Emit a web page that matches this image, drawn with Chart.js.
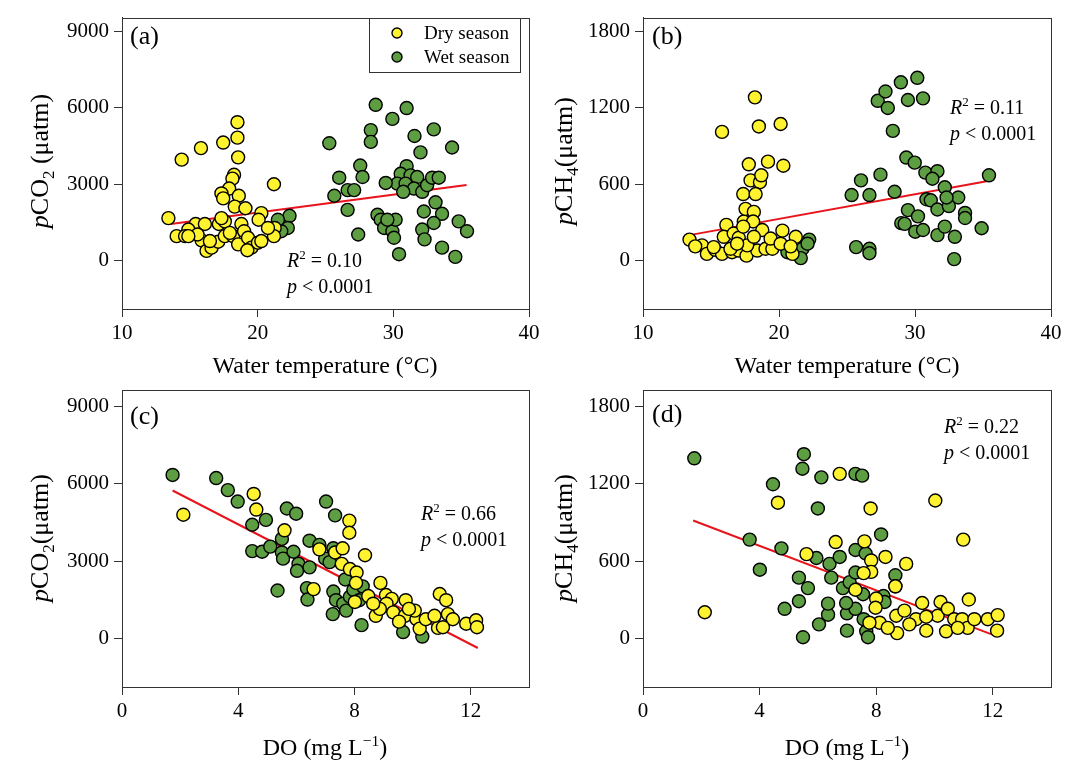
<!DOCTYPE html>
<html>
<head>
<meta charset="utf-8">
<script src="https://cdn.jsdelivr.net/npm/chart.js@4.4.0/dist/chart.umd.min.js"></script>
<style>
  html, body { margin: 0; padding: 0; background: #fff; }
  #wrap { position: relative; width: 1077px; height: 763px; }
  #wrap canvas { position: absolute; left: 0; top: 0; }
</style>
</head>
<body>
<div id="wrap">
  <canvas id="pa" width="1077" height="763"></canvas>
  <canvas id="pb" width="1077" height="763"></canvas>
  <canvas id="pc" width="1077" height="763"></canvas>
  <canvas id="pd" width="1077" height="763"></canvas>
</div>
<script>
// ---- data ----
const tempTicks = [10, 20, 30, 40];
const doTicks = [0, 4, 8, 12];
const co2Ticks = [0, 3000, 6000, 9000];
const ch4Ticks = [0, 600, 1200, 1800];

// (a) pCO2 vs water temperature
const aDryT = [13.42,14.40,15.82,17.46,18.51,18.51,18.56,18.26,18.14,17.90,17.33,17.46,18.61,18.31,19.10,21.20,20.27,20.07,21.25,21.20,15.43,16.11,14.89,14.03,14.65,15.87,16.23,16.60,17.09,17.14,17.58,17.58,18.19,18.56,18.80,19.00,19.29,19.54,20.02,19.24,20.27,20.76,15.57,17.33,17.95,16.48,14.89];
const aDryCO2 = [1673,3964,4414,4633,5431,4826,4054,3372,3218,2831,2638,2445,2548,2124,2059,2999,1866,1609,1287,965,1441,1441,1223,965,965,798,386,515,746,1441,1544,965,965,644,1441,1158,901,515,708,412,772,1287,1030,1673,1094,772,965];
const aWetT = [22.35,22.22,21.74,21.49,25.28,26.01,25.65,26.63,27.11,27.56,27.73,26.63,27.41,28.34,28.34,28.70,29.93,30.98,31.56,32.98,34.33,32.00,30.98,30.54,31.27,31.76,30.29,29.44,30.90,31.52,32.13,32.49,32.86,33.35,30.73,33.11,33.59,32.25,32.98,34.82,35.43,32.13,32.30,33.59,34.57,30.42,28.83,29.07,29.32,29.93,30.05,30.17,29.56];
const aWetCO2 = [1763,1287,1158,1609,4607,3256,2548,2767,2767,3732,3282,1995,1030,5122,4659,6113,5560,5985,4891,5148,4440,4247,3707,3411,3346,3282,3024,3050,3024,2831,2703,2960,3256,3256,2703,2291,1840,1931,1480,1544,1158,1223,837,515,154,257,1802,1609,1287,1158,901,1609,1609];
const aFitT = [13.6, 35.4];
const aFitCO2 = [1440, 2970];

// (b) pCH4 vs water temperature
const bDryT = [13.42,14.34,14.70,15.32,15.81,15.81,16.13,15.94,16.67,16.55,17.04,17.04,17.61,17.41,17.54,17.37,17.91,18.60,18.70,17.78,18.23,18.52,19.19,20.12,20.32,18.15,18.28,18.10,18.77,18.40,19.01,19.51,19.38,20.25,20.12,21.23,20.99,20.86,17.66,16.43,15.20,13.84,17.37,18.15,16.92];
const bDryCH4 = [166,121,54,86,54,1010,281,188,214,67,80,180,40,308,407,523,630,616,670,756,1281,1053,777,1072,745,383,523,308,241,80,94,94,174,236,134,188,54,113,121,94,107,113,268,188,134];
const bWetT = [22.22,21.72,21.60,22.10,20.62,25.67,26.65,26.65,25.34,26.03,26.65,27.46,28.50,27.26,27.83,28.00,28.96,29.48,30.17,30.59,28.37,29.36,29.98,30.76,31.65,31.28,32.19,33.18,30.84,31.16,31.65,32.49,32.32,29.48,30.22,28.99,29.24,30.02,30.59,31.65,32.19,32.93,33.68,33.68,34.90,35.44,32.88];
const bWetCH4 = [166,94,21,134,67,107,94,59,515,630,515,675,541,1254,1327,1198,1399,1260,1434,1273,1018,809,769,691,702,643,576,496,482,474,402,429,496,397,348,295,289,228,241,201,268,188,375,335,255,670,13];
const bFitT = [13.42, 35.27];
const bFitCH4 = [201, 624];

// (c) pCO2 vs DO
const cDryDO = [2.11,4.53,4.62,5.59,6.59,6.79,7.33,7.59,7.82,7.82,8.36,7.56,7.84,8.07,8.05,8.47,8.01,8.89,9.08,9.28,9.76,9.10,8.73,9.33,9.73,10.13,9.53,10.07,10.24,10.45,10.87,10.93,11.15,11.21,11.38,11.04,11.84,12.18,12.21,10.75,9.87,8.87,8.64];
const cDryCO2 = [4802,5609,5003,4196,1910,3457,3336,3497,4573,4102,3228,2892,2690,2556,2152,1641,1412,2152,1681,1533,1480,1345,874,1009,874,740,646,1076,377,740,404,1722,1480,941,740,430,565,700,430,874,1143,1143,1345];
const cWetDO = [1.74,3.24,3.64,3.98,4.48,4.95,5.67,5.99,4.48,4.82,5.10,5.50,5.50,5.54,5.90,6.07,6.02,6.45,6.45,5.35,6.36,6.38,7.02,7.33,6.79,6.99,7.14,7.27,7.27,7.36,7.25,7.61,7.71,7.84,7.96,8.28,7.68,8.24,9.67,10.33,8.16];
const cWetCO2 = [6348,6227,5757,5313,4412,4600,5044,4842,3389,3363,3564,3860,3336,3094,3363,2892,2623,2757,3793,1856,1950,1506,5313,4775,3632,3094,2959,3497,1816,1480,941,1345,1076,1614,1883,2018,2287,511,242,67,1480];
const cFitDO = [1.74, 12.24];
const cFitCO2 = [5743, -377];

// (d) pCH4 vs DO
const dDryDO = [2.12,4.63,5.61,6.61,6.75,7.60,7.81,7.83,7.83,7.57,8.32,9.03,8.66,7.29,8.00,7.98,8.12,7.77,8.69,8.72,8.97,9.37,9.58,9.72,10.03,10.21,10.11,10.40,10.46,10.68,10.95,10.99,11.18,11.14,11.37,11.83,12.17,12.15,8.40,9.14,9.72,10.80];
const dDryCH4 = [202,1054,654,748,1278,753,1009,605,516,506,632,578,404,377,309,237,121,121,175,40,215,148,274,59,1071,282,175,54,229,148,148,767,301,81,148,148,180,59,81,108,167,81];
const dWetDO = [1.76,3.66,4.01,4.46,4.75,4.86,5.35,5.35,5.52,5.47,5.49,5.66,5.95,6.00,6.12,6.04,6.35,6.35,6.40,6.46,6.75,6.86,7.00,7.00,7.09,7.29,7.52,7.29,7.29,7.29,7.64,7.55,7.57,7.66,7.72,8.17,8.25,8.29,8.66,8.66,6.97];
const dWetCH4 = [1399,767,533,1197,699,229,471,288,1431,1318,8,390,624,1009,1251,108,183,269,578,471,632,390,194,59,436,1278,1264,686,511,229,659,342,148,54,8,807,328,282,490,404,274];
const dFitDO = [1.72, 11.94];
const dFitCH4 = [915, 32];

// ---- styling ----
const SERIF = "'Liberation Serif', 'Times New Roman', serif";
const YELLOW = '#FFF22E';
const GREEN = '#5E9E42';
const RED = '#E8141B';
const AXIS = '#333';

const pairs = (xs, ys) => xs.map((x, i) => ({ x: x, y: ys[i] }));

// draw text made of pieces: [text, style] with style '', 'i', 'sub', 'sup'
function richWidth(ctx, parts, size) {
  let w = 0;
  parts.forEach(([t, s]) => {
    const fs = (s === 'sub' || s === 'sup') ? size * 0.65 : size;
    ctx.font = (s === 'i' ? 'italic ' : '') + fs + 'px ' + SERIF;
    w += ctx.measureText(t).width;
  });
  return w;
}
function drawRich(ctx, parts, x, cy, size, align) {
  const w = richWidth(ctx, parts, size);
  let cx = align === 'center' ? x - w / 2 : x;
  const base = cy + size * 0.34;
  ctx.textAlign = 'left';
  ctx.textBaseline = 'alphabetic';
  ctx.fillStyle = '#000';
  parts.forEach(([t, s]) => {
    let fs = size, dy = 0;
    if (s === 'sub') { fs = size * 0.65; dy = size * 0.22; }
    if (s === 'sup') { fs = size * 0.65; dy = -size * 0.38; }
    ctx.font = (s === 'i' ? 'italic ' : '') + fs + 'px ' + SERIF;
    ctx.fillText(t, cx, base + dy);
    cx += ctx.measureText(t).width;
  });
}

const decor = {
  id: 'decor',
  afterDraw(chart, args, o) {
    const ctx = chart.ctx;
    const a = chart.chartArea;
    ctx.save();
    ctx.strokeStyle = AXIS;
    ctx.lineWidth = 1;
    ctx.strokeRect(Math.round(a.left) + 0.5, Math.round(a.top) + 0.5, Math.round(a.right - a.left), Math.round(a.bottom - a.top));

    drawRich(ctx, [[o.tag, '']], o.tagPos[0], o.tagPos[1], 26, 'left');
    drawRich(ctx, [['R', 'i'], ['2', 'sup'], [' = ' + o.r2, '']], o.statPos[0], o.statPos[1], 20, 'left');
    drawRich(ctx, [['p', 'i'], [' < 0.0001', '']], o.statPos[0], o.statPos[1] + 26, 20, 'left');
    drawRich(ctx, o.xTitle, o.xTitlePos[0], o.xTitlePos[1], 24, 'center');

    ctx.save();
    ctx.translate(o.yTitlePos[0], o.yTitlePos[1]);
    ctx.rotate(-Math.PI / 2);
    drawRich(ctx, o.yTitle, 0, 0, 26, 'center');
    ctx.restore();

    if (o.legend) {
      ctx.strokeStyle = AXIS;
      ctx.strokeRect(369.5, 18.5, 151, 54);
      [['Dry season', YELLOW, 33], ['Wet season', GREEN, 57]].forEach(([txt, col, y]) => {
        ctx.beginPath();
        ctx.arc(397, y, 5, 0, Math.PI * 2);
        ctx.fillStyle = col;
        ctx.fill();
        ctx.lineWidth = 1.4;
        ctx.strokeStyle = '#000';
        ctx.stroke();
        drawRich(ctx, [[txt, '']], 424, y, 19, 'left');
      });
    }
    ctx.restore();
  }
};

function axis(min, max, ticks, isX, size) {
  return {
    type: 'linear',
    min: min,
    max: max,
    afterBuildTicks: s => { s.ticks = ticks.map(v => ({ value: v })); },
    afterFit: s => { if (isX) s.height = size; else s.width = size; },
    ticks: {
      callback: v => String(v),
      color: '#000',
      font: { family: SERIF, size: 21 },
      padding: isX ? 4 : 5,
      maxRotation: 0
    },
    grid: { drawOnChartArea: false, drawTicks: true, tickLength: 8, color: AXIS, lineWidth: 1 },
    border: { display: true, color: AXIS, width: 1 }
  };
}

function makePanel(id, p) {
  const yW = 100, xH = 50;
  const [L, T, R, B] = p.area;
  new Chart(document.getElementById(id), {
    type: 'scatter',
    data: {
      datasets: [
        { label: 'Dry season', data: pairs(p.dryX, p.dryY), backgroundColor: YELLOW, borderColor: '#000', borderWidth: 1.4, pointRadius: 6.5, order: 0 },
        { label: 'Wet season', data: pairs(p.wetX, p.wetY), backgroundColor: GREEN, borderColor: '#000', borderWidth: 1.4, pointRadius: 6.5, order: 1 },
        { type: 'line', label: 'fit', data: pairs(p.fitX, p.fitY), borderColor: RED, borderWidth: 2, pointRadius: 0, fill: false, order: 2 }
      ]
    },
    options: {
      responsive: false,
      animation: false,
      events: [],
      layout: { padding: { left: L - yW, top: T, right: 1077 - R, bottom: 763 - B - xH } },
      plugins: {
        legend: { display: false },
        tooltip: { enabled: false },
        decor: p.decor
      },
      scales: {
        x: axis(p.xRange[0], p.xRange[1], p.xTicks, true, xH),
        y: axis(p.yRange[0], p.yRange[1], p.yTicks, false, yW)
      }
    },
    plugins: [decor]
  });
}

makePanel('pa', {
  area: [122, 13, 529, 309],
  dryX: aDryT, dryY: aDryCO2, wetX: aWetT, wetY: aWetCO2, fitX: aFitT, fitY: aFitCO2,
  xRange: [10, 40], yRange: [-1890, 9530], xTicks: tempTicks, yTicks: co2Ticks,
  decor: {
    tag: '(a)', tagPos: [130, 35], r2: '0.10', statPos: [287, 260], legend: true,
    xTitle: [['Water temperature (°C)', '']], xTitlePos: [325, 365],
    yTitle: [['p', 'i'], ['CO', ''], ['2', 'sub'], [' (μatm)', '']], yTitlePos: [39, 161]
  }
});
makePanel('pb', {
  area: [643, 13, 1051, 309],
  dryX: bDryT, dryY: bDryCH4, wetX: bWetT, wetY: bWetCH4, fitX: bFitT, fitY: bFitCH4,
  xRange: [10, 40], yRange: [-378, 1906], xTicks: tempTicks, yTicks: ch4Ticks,
  decor: {
    tag: '(b)', tagPos: [652, 35], r2: '0.11', statPos: [950, 107], legend: false,
    xTitle: [['Water temperature (°C)', '']], xTitlePos: [847, 365],
    yTitle: [['p', 'i'], ['CH', ''], ['4', 'sub'], ['(μatm)', '']], yTitlePos: [563, 161]
  }
});
makePanel('pc', {
  area: [122, 390, 529, 687],
  dryX: cDryDO, dryY: cDryCO2, wetX: cWetDO, wetY: cWetCO2, fitX: cFitDO, fitY: cFitCO2,
  xRange: [0, 14], yRange: [-1893, 9649], xTicks: doTicks, yTicks: co2Ticks,
  decor: {
    tag: '(c)', tagPos: [130, 415], r2: '0.66', statPos: [421, 513], legend: false,
    xTitle: [['DO (mg L', ''], ['−1', 'sup'], [')', '']], xTitlePos: [325, 747],
    yTitle: [['p', 'i'], ['CO', ''], ['2', 'sub'], ['(μatm)', '']], yTitlePos: [39, 538]
  }
});
makePanel('pd', {
  area: [643, 390, 1051, 687],
  dryX: dDryDO, dryY: dDryCH4, wetX: dWetDO, wetY: dWetCH4, fitX: dFitDO, fitY: dFitCH4,
  xRange: [0, 14], yRange: [-379, 1930], xTicks: doTicks, yTicks: ch4Ticks,
  decor: {
    tag: '(d)', tagPos: [652, 413], r2: '0.22', statPos: [944, 426], legend: false,
    xTitle: [['DO (mg L', ''], ['−1', 'sup'], [')', '']], xTitlePos: [847, 747],
    yTitle: [['p', 'i'], ['CH', ''], ['4', 'sub'], ['(μatm)', '']], yTitlePos: [563, 538]
  }
});
</script>
</body>
</html>
